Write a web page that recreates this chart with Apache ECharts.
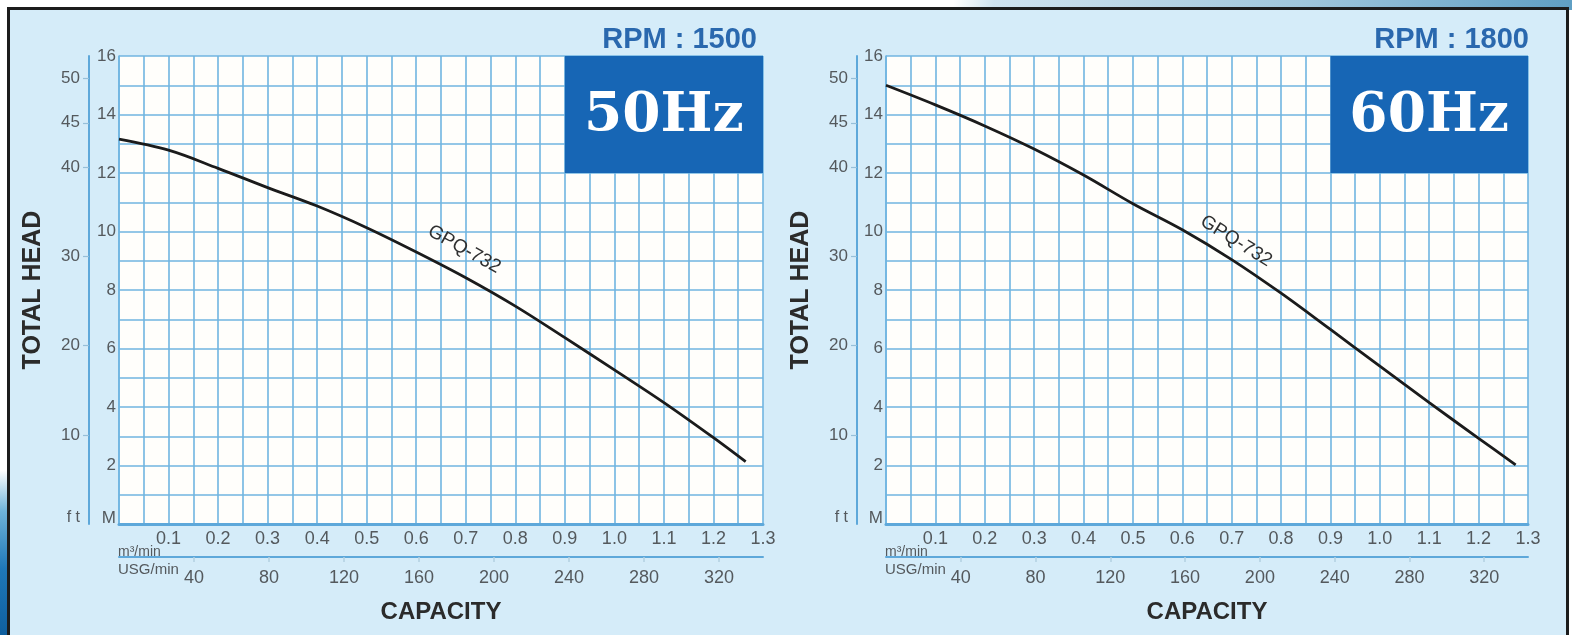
<!DOCTYPE html>
<html>
<head>
<meta charset="utf-8">
<script src="https://cdn.jsdelivr.net/npm/echarts@6/dist/echarts.min.js"></script>
<style>
  html, body { margin: 0; padding: 0; background: #ffffff; width: 1572px; height: 635px; overflow: hidden; }
  #deco-top { position: absolute; left: 900px; top: 0; width: 672px; height: 10px;
    background: linear-gradient(100deg, #ffffff 0%, #ffffff 8%, #cfe3ef 14%, #9fc6dc 60%, #5f9fc4 100%); }
  #deco-left { position: absolute; left: 0; top: 470px; width: 10px; height: 165px;
    background: linear-gradient(180deg, #ffffff 0%, #6fb3d9 25%, #1f78b8 60%, #0f5f9e 100%); }
  #frame { position: absolute; left: 7px; top: 7px; width: 1562px; height: 700px; box-sizing: border-box;
    border: 3px solid #1c1c1c; background: #d5ecf9; }
  #chart { position: absolute; left: 0; top: 0; width: 1572px; height: 635px; }
</style>
</head>
<body>
<div id="deco-top"></div>
<div id="deco-left"></div>
<div id="frame"></div>
<div id="chart"></div>
<script>
// ---------------- data ----------------
const capacity50 = [0, 0.1, 0.2, 0.3, 0.4, 0.5, 0.6, 0.7, 0.8, 0.9, 1.0, 1.1, 1.2, 1.265];
const head50     = [13.16, 12.78, 12.16, 11.5, 10.87, 10.13, 9.3, 8.42, 7.45, 6.37, 5.27, 4.15, 2.95, 2.13];
const capacity60 = [0, 0.1, 0.2, 0.3, 0.4, 0.5, 0.6, 0.7, 0.8, 0.9, 1.0, 1.1, 1.2, 1.275];
const head60     = [15.0, 14.33, 13.61, 12.82, 11.93, 10.95, 10.06, 9.04, 7.89, 6.65, 5.4, 4.15, 2.93, 2.02];

const modelName = 'GPQ-732';
const panelTitles = ['RPM : 1500', 'RPM : 1800'];
const hzLabels = ['50Hz', '60Hz'];

const mTickLabels   = [0, 2, 4, 6, 8, 10, 12, 14, 16];
const ftTickLabels  = [0, 10, 20, 30, 40, 45, 50];
const ftTickMarks   = [10, 20, 30, 40, 45, 50];
const m3TickLabels  = [0.1, 0.2, 0.3, 0.4, 0.5, 0.6, 0.7, 0.8, 0.9, 1.0, 1.1, 1.2, 1.3];
const usgTickLabels = [40, 80, 120, 160, 200, 240, 280, 320];

const hzBoxCapacity = [0.9, 1.3];
const hzBoxHead = [12, 16];
const labelIndex = 7;

// unit conversions
const FT_PER_M = 3.28084;
const USG_PER_M3 = 1000 / 3.785411784;
const CAP_MAX = 1.3, HEAD_MAX = 16;

// ---------------- style ----------------
const FONT = "'Liberation Sans', Arial, sans-serif";
const GRID_BLUE = '#70b5e1';
const AXIS_BLUE = '#5ea8da';
const TICK_GREY = '#54595d';

const grids = [
  { left: 119, top: 56, width: 644, height: 468, ftOffset: 30, titleRight: 810 },
  { left: 886, top: 56, width: 642, height: 468, ftOffset: 29, titleRight: 38 }
];

const chart = echarts.init(document.getElementById('chart'), null, { renderer: 'canvas' });

const option = {
  backgroundColor: 'transparent',
  animation: false,
  title: [],
  grid: [],
  xAxis: [],
  yAxis: [],
  series: [],
  graphic: []
};

const panels = [
  { cap: capacity50, head: head50 },
  { cap: capacity60, head: head60 }
];

panels.forEach((p, i) => {
  const g = grids[i];
  option.grid.push({
    left: g.left, top: g.top, width: g.width, height: g.height,
    containLabel: false, outerBoundsMode: 'none',
    show: true, backgroundColor: '#fffefb', borderWidth: 0
  });
  // capacity m3/min axis
  option.xAxis.push({
    type: 'value', gridIndex: i, min: 0, max: CAP_MAX, interval: 0.05,
    axisLine: { show: true, onZero: false, lineStyle: { color: AXIS_BLUE, width: 3 } },
    axisTick: { show: false },
    splitLine: { show: true, lineStyle: { color: GRID_BLUE, width: 1.6 } },
    axisLabel: {
      customValues: m3TickLabels, margin: 6,
      formatter: v => v.toFixed(1),
      color: TICK_GREY, fontSize: 18, fontFamily: FONT
    }
  });
  // capacity USG/min axis
  option.xAxis.push({
    type: 'value', gridIndex: i, position: 'bottom', offset: 33,
    min: 0, max: CAP_MAX * USG_PER_M3, interval: 40,
    axisLine: { show: true, onZero: false, lineStyle: { color: AXIS_BLUE, width: 2 } },
    axisTick: { show: true, customValues: usgTickLabels, length: 5, lineStyle: { color: '#b3cfe1', width: 1.5 } },
    splitLine: { show: false },
    axisLabel: {
      customValues: usgTickLabels, margin: 12,
      color: TICK_GREY, fontSize: 18, fontFamily: FONT
    },
    name: 'CAPACITY', nameLocation: 'middle', nameGap: 43, nameMoveOverlap: false,
    nameTextStyle: { color: '#2b2b2b', fontSize: 24, fontWeight: 'bold', fontFamily: FONT }
  });
  // head metres axis
  option.yAxis.push({
    type: 'value', gridIndex: i, min: 0, max: HEAD_MAX, interval: 1,
    axisLine: { show: true, onZero: false, lineStyle: { color: GRID_BLUE, width: 1.6 } },
    axisTick: { show: false },
    splitLine: { show: true, lineStyle: { color: GRID_BLUE, width: 1.6 } },
    axisLabel: {
      customValues: mTickLabels, margin: 3,
      formatter: v => v === 0 ? '{z|M}' : String(v),
      color: TICK_GREY, fontSize: 17, fontFamily: FONT,
      rich: { z: { color: TICK_GREY, fontSize: 17, fontFamily: FONT, padding: [0, 0, 12, 0] } }
    }
  });
  // head feet axis
  option.yAxis.push({
    type: 'value', gridIndex: i, position: 'left', offset: g.ftOffset,
    min: 0, max: HEAD_MAX * FT_PER_M, interval: 5,
    axisLine: { show: true, onZero: false, lineStyle: { color: AXIS_BLUE, width: 2 } },
    axisTick: { show: true, customValues: ftTickMarks, length: 6, lineStyle: { color: '#95bfd9', width: 1.2 } },
    splitLine: { show: false },
    axisLabel: {
      customValues: ftTickLabels, margin: 9,
      formatter: v => v === 0 ? '{z|f t}' : String(v),
      color: TICK_GREY, fontSize: 17, fontFamily: FONT,
      rich: { z: { color: TICK_GREY, fontSize: 16, fontFamily: FONT, padding: [0, 0, 12, 0] } }
    },
    name: 'TOTAL HEAD', nameLocation: 'middle', nameGap: 43, nameMoveOverlap: false,
    nameTextStyle: { color: '#2b2b2b', fontSize: 25, fontWeight: 'bold', fontFamily: FONT }
  });

  option.series.push({
    type: 'line', xAxisIndex: i * 2, yAxisIndex: i * 2,
    data: p.cap.map((c, k) => [c, p.head[k]]),
    smooth: 0.35, showSymbol: false, silent: true,
    lineStyle: { color: '#1b1b1b', width: 2.8 },
    markPoint: {
      silent: true, symbol: 'circle', symbolSize: 0,
      data: [{ coord: [p.cap[labelIndex], p.head[labelIndex]] }],
      label: {
        show: true, formatter: modelName, position: 'inside',
        rotate: i === 0 ? -29 : -32, offset: i === 0 ? [-15, -24] : [-6, -18],
        color: '#303030', fontSize: 19, fontFamily: FONT
      }
    },
    markArea: {
      silent: true,
      itemStyle: { color: '#1766b5', opacity: 1 },
      label: {
        show: true, position: 'inside', formatter: hzLabels[i],
        color: '#ffffff', fontSize: 55, fontWeight: 'bold', fontFamily: "'DejaVu Serif', serif", offset: [0, 2]
      },
      data: [[{ coord: [hzBoxCapacity[0], hzBoxHead[1]] }, { coord: [hzBoxCapacity[1], hzBoxHead[0]] }]]
    }
  });

  option.title.push({
    text: panelTitles[i], right: g.titleRight, top: 20,
    textStyle: { color: '#2a68ae', fontSize: 29, fontWeight: 'bold', fontFamily: FONT }
  });

  option.graphic.push(
    { type: 'text', left: g.left - 1, top: 545, silent: true,
      style: { text: 'm³/min', fill: TICK_GREY, fontSize: 14, fontFamily: FONT } },
    { type: 'text', left: g.left - 1, top: 562, silent: true,
      style: { text: 'USG/min', fill: TICK_GREY, fontSize: 15, fontFamily: FONT } }
  );
});

chart.setOption(option);
</script>
</body>
</html>
